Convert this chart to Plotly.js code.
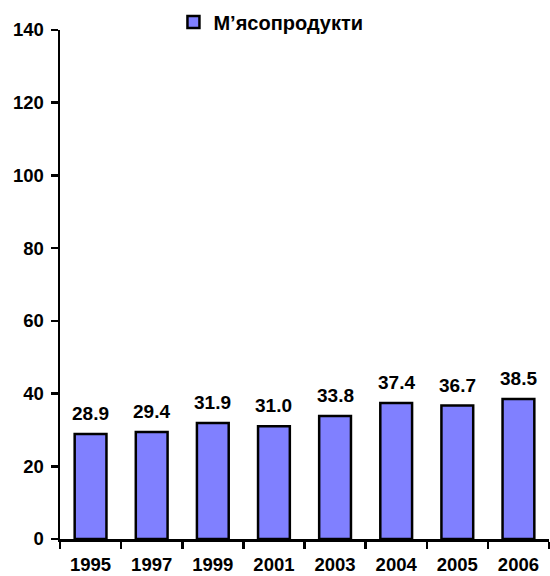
<!DOCTYPE html>
<html>
<head>
<meta charset="utf-8">
<script src="https://cdn.plot.ly/plotly-3.0.1.min.js"></script>
<style>html,body{margin:0;padding:0;background:#fff;}</style>
</head>
<body>
<div id="chart" style="width:550px;height:576px;"></div>
<script>
var years = ['1995','1997','1999','2001','2003','2004','2005','2006'];
var meat = [28.9, 29.4, 31.9, 31.0, 33.8, 37.4, 36.7, 38.5];
var seriesName = 'М’ясопродукти';
var yTicks = [0, 20, 40, 60, 80, 100, 120, 140];

var fam = 'Liberation Sans, Arial, sans-serif';

var trace = {
  type: 'bar',
  x: years,
  y: meat,
  name: seriesName,
  marker: {color: '#8080FF', line: {color: '#000', width: 2.5}},
  hoverinfo: 'none'
};

// category index i corresponds to years[i]
var annotations = years.map(function(yr, i){
  return {
    x: i, y: meat[i], xref: 'x', yref: 'y',
    text: meat[i].toFixed(1),
    showarrow: false, yanchor: 'bottom', yshift: 8,
    font: {family: fam, size: 19, color: '#000', weight: 'bold'}
  };
});

var layout = {
  width: 550, height: 576,
  margin: {l: 60, r: 1, t: 30, b: 37, autoexpand: false},
  paper_bgcolor: '#fff', plot_bgcolor: '#fff',
  font: {family: fam, size: 18, color: '#000'},
  bargap: 0.48,
  showlegend: true,
  legend: {
    x: 0.232, xanchor: 'left', y: 1.0157, yanchor: 'middle',
    orientation: 'h',
    font: {family: fam, size: 20, color: '#000', weight: 'bold'},
    bgcolor: 'rgba(0,0,0,0)'
  },
  annotations: annotations,
  xaxis: {
    type: 'category',
    range: [-0.5, years.length - 0.5],
    showline: true, linecolor: '#000', linewidth: 2.5,
    ticks: 'outside', tickson: 'boundaries', ticklen: 7, tickwidth: 2.5, tickcolor: '#000',
    ticklabelstandoff: 7,
    showgrid: false, zeroline: false,
    tickfont: {family: fam, size: 18.5, color: '#000', weight: 'bold'}
  },
  yaxis: {
    range: [0, 140], tickvals: yTicks,
    showline: true, linecolor: '#000', linewidth: 2.5,
    ticks: 'outside', ticklen: 7, tickwidth: 2.5, tickcolor: '#000',
    ticklabelstandoff: 3,
    showgrid: false, zeroline: false,
    tickfont: {family: fam, size: 18.5, color: '#000', weight: 'bold'}
  }
};

Plotly.newPlot('chart', [trace], layout, {displayModeBar: false, staticPlot: true});
</script>
</body>
</html>
